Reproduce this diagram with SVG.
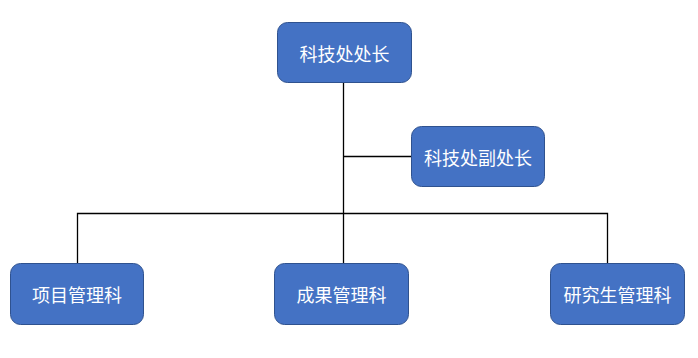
<svg xmlns="http://www.w3.org/2000/svg" width="698" height="358" viewBox="0 0 698 358">
<style>
.box{fill:#4472C4;stroke:#2F528F;stroke-width:1}
.lbl{fill:#FFFFFF;font-family:"Noto Sans CJK SC","Liberation Sans",sans-serif;font-size:18px;text-anchor:middle;dominant-baseline:central}
.ln{stroke:#000000;stroke-width:1.3;fill:none}
</style>
<rect width="698" height="358" fill="#FFFFFF"/>
<g id="connectors">
<line class="ln" x1="343.5" y1="82" x2="343.5" y2="263"/>
<line class="ln" x1="343.5" y1="156.5" x2="412" y2="156.5"/>
<polyline class="ln" points="77.5,263 77.5,213.5 607.5,213.5 607.5,263"/>
</g>
<g id="n-chief"><rect class="box" x="277.5" y="22.5" width="134" height="60" rx="10"/><text class="lbl" x="344.5" y="52.5">科技处处长</text></g>
<g id="n-deputy"><rect class="box" x="411.5" y="126.5" width="133" height="60" rx="10"/><text class="lbl" x="478" y="156.5">科技处副处长</text></g>
<g id="n-project"><rect class="box" x="10.5" y="263.5" width="133" height="61" rx="10"/><text class="lbl" x="77" y="294">项目管理科</text></g>
<g id="n-result"><rect class="box" x="274.5" y="263.5" width="134" height="61" rx="10"/><text class="lbl" x="341.5" y="294">成果管理科</text></g>
<g id="n-grad"><rect class="box" x="550.5" y="263.5" width="134" height="61" rx="10"/><text class="lbl" x="617.5" y="294">研究生管理科</text></g>
</svg>
